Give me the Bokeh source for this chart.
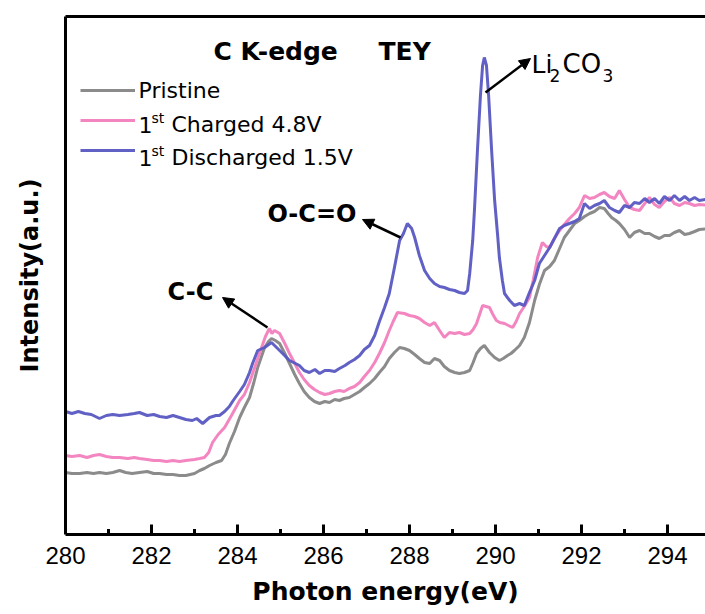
from bokeh.plotting import figure
from bokeh.models import (Range1d, LinearAxis, FixedTicker, Label, Arrow,
                          NormalHead, Legend, LegendItem)
from bokeh.embed import file_html
from bokeh.resources import INLINE

# ---------------- data (photon energy eV, intensity a.u.) ----------------
pristine = [(280.00,0.62),(280.15,0.61),(280.33,0.61),(280.50,0.62),(280.65,0.61),(280.79,0.62),(280.95,0.61),(281.10,0.62),(281.26,0.64),(281.40,0.62),(281.55,0.61),(281.72,0.62),(281.90,0.63),(282.05,0.61),(282.19,0.61),(282.35,0.60),(282.50,0.60),(282.65,0.59),(282.80,0.59),(283.00,0.61),(283.12,0.64),(283.23,0.66),(283.35,0.69),(283.50,0.72),(283.63,0.74),(283.72,0.80),(283.81,0.91),(283.93,1.03),(284.05,1.17),(284.16,1.27),(284.28,1.37),(284.38,1.52),(284.47,1.67),(284.55,1.77),(284.63,1.87),(284.72,1.93),(284.79,1.96),(284.88,1.94),(284.98,1.91),(285.10,1.81),(285.21,1.71),(285.33,1.60),(285.44,1.51),(285.55,1.43),(285.67,1.37),(285.79,1.33),(285.91,1.31),(286.03,1.33),(286.14,1.32),(286.26,1.35),(286.37,1.34),(286.48,1.36),(286.60,1.37),(286.72,1.40),(286.84,1.43),(286.95,1.47),(287.07,1.51),(287.19,1.56),(287.30,1.62),(287.42,1.68),(287.53,1.76),(287.65,1.82),(287.77,1.87),(287.88,1.86),(288.00,1.84),(288.12,1.80),(288.23,1.76),(288.35,1.72),(288.47,1.71),(288.58,1.76),(288.70,1.74),(288.81,1.68),(288.93,1.64),(289.05,1.62),(289.16,1.61),(289.28,1.62),(289.40,1.64),(289.48,1.72),(289.56,1.81),(289.65,1.86),(289.74,1.89),(289.86,1.82),(289.98,1.77),(290.09,1.74),(290.18,1.76),(290.28,1.79),(290.36,1.81),(290.44,1.84),(290.56,1.89),(290.67,1.97),(290.79,2.12),(290.91,2.34),(291.02,2.50),(291.14,2.64),(291.26,2.68),(291.37,2.74),(291.49,2.86),(291.60,2.97),(291.72,3.04),(291.84,3.11),(291.95,3.14),(292.07,3.18),(292.19,3.21),(292.30,3.23),(292.42,3.27),(292.53,3.26),(292.62,3.21),(292.70,3.17),(292.80,3.14),(292.88,3.11),(293.00,3.05),(293.12,2.97),(293.23,3.02),(293.35,3.04),(293.47,3.01),(293.58,3.01),(293.70,2.98),(293.81,2.96),(293.93,2.99),(294.05,2.99),(294.16,3.02),(294.28,3.04),(294.40,3.00),(294.51,3.01),(294.63,3.03),(294.74,3.05),(295.00,3.06)]

charged = [(280.00,0.79),(280.15,0.78),(280.33,0.79),(280.50,0.77),(280.65,0.79),(280.79,0.80),(280.95,0.78),(281.10,0.77),(281.26,0.77),(281.45,0.76),(281.60,0.77),(281.72,0.76),(281.90,0.75),(282.05,0.74),(282.19,0.74),(282.35,0.73),(282.50,0.74),(282.65,0.73),(282.80,0.74),(283.00,0.75),(283.12,0.76),(283.23,0.77),(283.33,0.82),(283.42,0.92),(283.55,1.00),(283.70,1.07),(283.86,1.19),(284.05,1.34),(284.16,1.40),(284.28,1.52),(284.40,1.67),(284.56,1.87),(284.65,1.98),(284.74,2.06),(284.80,2.01),(284.86,2.04),(284.98,2.01),(285.10,1.91),(285.21,1.81),(285.32,1.72),(285.44,1.62),(285.55,1.55),(285.67,1.49),(285.79,1.45),(285.91,1.42),(286.03,1.40),(286.14,1.41),(286.26,1.43),(286.37,1.44),(286.48,1.43),(286.60,1.46),(286.72,1.48),(286.84,1.52),(286.95,1.58),(287.07,1.64),(287.19,1.72),(287.30,1.81),(287.42,1.92),(287.53,2.04),(287.62,2.13),(287.72,2.22),(287.88,2.21),(288.00,2.19),(288.12,2.18),(288.23,2.16),(288.35,2.12),(288.47,2.09),(288.58,2.12),(288.70,2.04),(288.81,1.97),(288.93,2.02),(289.05,2.01),(289.16,2.02),(289.28,2.00),(289.40,2.01),(289.48,2.05),(289.56,2.11),(289.63,2.20),(289.70,2.29),(289.78,2.28),(289.86,2.27),(289.94,2.20),(290.02,2.14),(290.10,2.12),(290.21,2.11),(290.30,2.09),(290.40,2.07),(290.48,2.13),(290.56,2.21),(290.67,2.28),(290.79,2.37),(290.88,2.55),(290.98,2.77),(291.09,2.92),(291.18,2.88),(291.26,2.87),(291.37,2.96),(291.49,3.04),(291.60,3.10),(291.72,3.16),(291.84,3.21),(291.95,3.27),(292.07,3.39),(292.19,3.36),(292.30,3.37),(292.42,3.40),(292.53,3.42),(292.65,3.38),(292.77,3.36),(292.88,3.44),(293.00,3.35),(293.12,3.27),(293.23,3.25),(293.35,3.24),(293.47,3.31),(293.58,3.37),(293.70,3.30),(293.81,3.27),(293.93,3.33),(294.05,3.37),(294.16,3.31),(294.28,3.29),(294.40,3.32),(294.51,3.31),(294.63,3.29),(294.74,3.30),(295.00,3.29)]

discharged = [(280.00,1.23),(280.15,1.21),(280.30,1.23),(280.45,1.21),(280.60,1.20),(280.79,1.16),(280.95,1.19),(281.10,1.20),(281.26,1.19),(281.45,1.20),(281.60,1.21),(281.72,1.22),(281.90,1.19),(282.05,1.20),(282.19,1.18),(282.35,1.17),(282.50,1.19),(282.65,1.17),(282.80,1.15),(282.95,1.14),(283.05,1.16),(283.19,1.11),(283.35,1.17),(283.50,1.19),(283.58,1.19),(283.70,1.23),(283.81,1.28),(283.90,1.34),(284.05,1.43),(284.16,1.50),(284.28,1.62),(284.35,1.71),(284.47,1.84),(284.63,1.87),(284.79,1.92),(284.98,1.84),(285.21,1.74),(285.44,1.69),(285.55,1.64),(285.67,1.62),(285.80,1.65),(285.91,1.61),(286.03,1.64),(286.14,1.64),(286.26,1.63),(286.37,1.66),(286.50,1.69),(286.60,1.72),(286.72,1.75),(286.84,1.79),(286.95,1.85),(287.07,1.89),(287.19,1.99),(287.30,2.13),(287.42,2.27),(287.53,2.41),(287.65,2.67),(287.77,2.94),(287.86,3.01),(287.95,3.11),(288.05,3.06),(288.12,2.97),(288.23,2.79),(288.35,2.64),(288.47,2.56),(288.58,2.51),(288.70,2.48),(288.81,2.47),(288.93,2.45),(289.05,2.44),(289.16,2.42),(289.28,2.41),(289.35,2.44),(289.40,2.61),(289.47,2.94),(289.51,3.24),(289.58,3.84),(289.65,4.39),(289.70,4.69),(289.74,4.77),(289.79,4.69),(289.84,4.39),(289.91,3.84),(289.98,3.34),(290.05,2.99),(290.09,2.77),(290.16,2.54),(290.21,2.41),(290.33,2.34),(290.44,2.29),(290.56,2.31),(290.67,2.29),(290.79,2.42),(290.91,2.54),(291.02,2.71),(291.14,2.79),(291.26,2.87),(291.37,2.96),(291.49,3.06),(291.60,3.09),(291.72,3.11),(291.84,3.13),(291.95,3.16),(292.07,3.31),(292.19,3.26),(292.30,3.29),(292.42,3.31),(292.53,3.34),(292.65,3.27),(292.77,3.24),(292.88,3.22),(293.00,3.29),(293.12,3.27),(293.23,3.32),(293.35,3.31),(293.47,3.36),(293.58,3.32),(293.70,3.36),(293.81,3.31),(293.93,3.38),(294.05,3.34),(294.16,3.39),(294.28,3.34),(294.40,3.38),(294.51,3.34),(294.63,3.37),(294.74,3.34),(295.00,3.36)]

series_colors = ["#858585", "#F27FBD", "#5757C2"]
major_ticks = [280, 282, 284, 286, 288, 290, 292, 294]
minor_ticks = [281, 283, 285, 287, 289, 291, 293]

# ---------------- layout helpers (screen px -> data) ----------------
W, H = 705, 614
FL, FT, FB = 65, 16, 534
PX_PER_EV = 43.0
X0 = 280.0
X1 = X0 + (W - FL) / PX_PER_EV
Y1 = (FB - FT) / 100.0

def dx(px):
    return X0 + (px - FL) / PX_PER_EV

def dy(py):
    return (FB - py) / 100.0

TXT = "DejaVu Sans"

p = figure(width=W, height=H, output_backend="svg", toolbar_location=None,
           x_range=Range1d(X0, X1), y_range=Range1d(0, Y1),
           min_border_left=FL, min_border_right=0, min_border_top=FT,
           min_border_bottom=H - FB, x_axis_location=None, y_axis_location=None)
p.outline_line_color = None
p.grid.visible = False

# bottom axis (tick marks drawn inside the frame below)
xa = LinearAxis(ticker=FixedTicker(ticks=major_ticks))
xa.axis_line_width = 3
xa.major_tick_line_color = None
xa.minor_tick_line_color = None
xa.major_label_standoff = 6
xa.major_label_text_font = "Liberation Sans"
xa.major_label_text_font_size = "24px"
xa.major_label_text_color = "black"
xa.axis_label = "Photon energy(eV)"
xa.axis_label_text_font = TXT
xa.axis_label_text_font_style = "bold"
xa.axis_label_text_font_size = "25px"
xa.axis_label_text_color = "black"
xa.axis_label_standoff = 10
p.add_layout(xa, "below")

# left axis (no ticks)
ya = LinearAxis(ticker=FixedTicker(ticks=[]))
ya.axis_line_width = 3
ya.axis_label = "Intensity(a.u.)"
ya.axis_label_text_font = TXT
ya.axis_label_text_font_style = "bold"
ya.axis_label_text_font_size = "24px"
ya.axis_label_text_color = "black"
ya.axis_label_standoff = 22
ya.major_tick_line_color = None
ya.minor_tick_line_color = None
p.add_layout(ya, "left")

# top border
ta = LinearAxis(ticker=FixedTicker(ticks=[]))
ta.axis_line_width = 3
ta.major_tick_line_color = None
ta.minor_tick_line_color = None
p.add_layout(ta, "above")

# inward ticks
p.segment(x0=major_ticks, y0=[0] * len(major_ticks), x1=major_ticks,
          y1=[0.10] * len(major_ticks), line_color="black", line_width=3)
p.segment(x0=minor_ticks, y0=[0] * len(minor_ticks), x1=minor_ticks,
          y1=[0.055] * len(minor_ticks), line_color="black", line_width=3)

renderers = []
for data, col in zip([pristine, charged, discharged], series_colors):
    e, v = zip(*data)
    r = p.line(list(e), list(v), line_color=col, line_width=3, line_alpha=0.95)
    renderers.append(r)

# legend (line samples); texts drawn as labels to allow superscripts
leg = Legend(items=[LegendItem(label=" ", renderers=[r]) for r in renderers],
             location=(15, FB - 165), glyph_width=55, glyph_height=30,
             label_height=30, label_width=0, label_standoff=0, spacing=0,
             padding=0, margin=0, label_text_font_size="1px",
             background_fill_alpha=0, border_line_color=None)
p.add_layout(leg)

def lab(text, px, py, size, bold=False, font=TXT, align="left"):
    # py is the visual baseline in screen px; shift compensates the renderer
    p.add_layout(Label(x=dx(px), y=dy(py - 0.36 * size), text=text, text_font=font,
                       text_font_size=f"{size}px",
                       text_font_style="bold" if bold else "normal",
                       text_color="black", text_baseline="alphabetic",
                       text_align=align))

# legend texts
lab("Pristine", 138, 98, 22)
lab("1", 138, 132, 22)
lab("st", 151, 123, 14)
lab("Charged 4.8V", 171, 132, 22)
lab("1", 138, 165, 22)
lab("st", 151, 156, 14)
lab("Discharged 1.5V", 171, 165, 22)

# title
lab("C K-edge", 213, 60, 25, bold=True)
lab("TEY", 378, 60, 25, bold=True)

# annotations
lab("O-C=O", 267, 222, 24, bold=True)
lab("C-C", 167, 300, 24, bold=True)
lab("Li", 531, 73, 25)
lab("2", 549, 81, 17)
lab("CO", 562, 73, 26)
lab("3", 602, 81, 17)

def arrow(x0, y0, x1, y1):
    p.add_layout(Arrow(end=NormalHead(size=11, fill_color="black", line_color="black"),
                       x_start=dx(x0), y_start=dy(y0), x_end=dx(x1), y_end=dy(y1),
                       line_width=2.5, line_color="black"))

arrow(400, 237, 362, 219)
arrow(267, 327, 222, 297)
arrow(485, 92, 530, 58)

open("out.html", "w").write(file_html(p, INLINE))
